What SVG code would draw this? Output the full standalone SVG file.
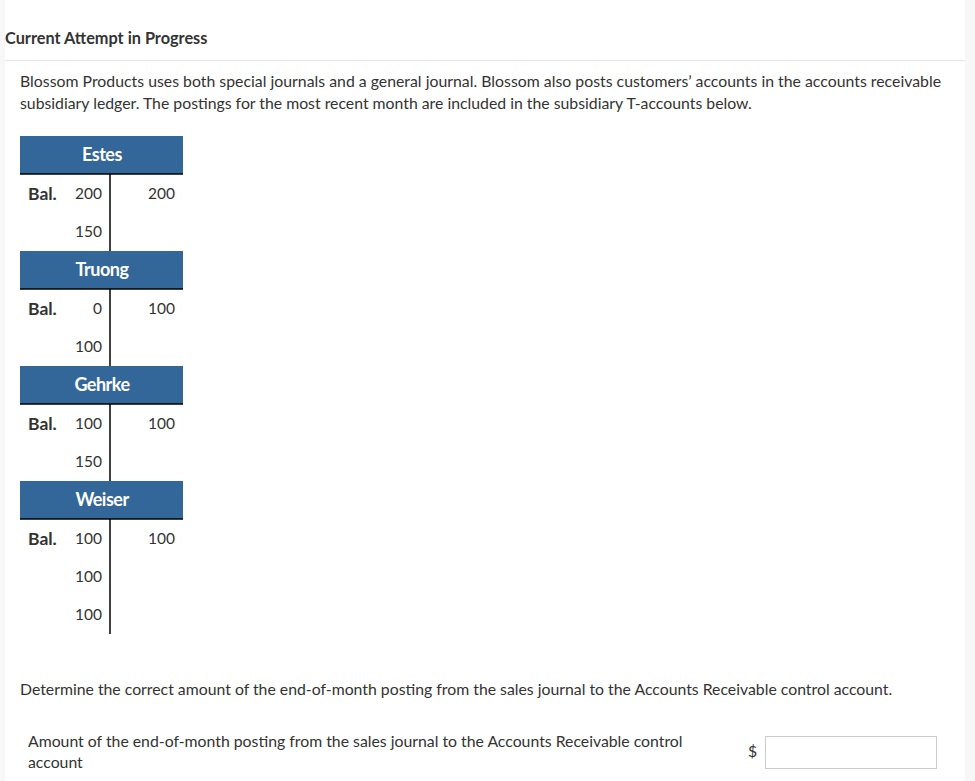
<svg xmlns="http://www.w3.org/2000/svg" width="975" height="781" viewBox="0 0 975 781">
<style>
text{font-family:Lato,"Noto Sans","Liberation Sans",sans-serif;fill:#333;font-size:15.8px}
.t{font-weight:bold;font-size:16.3px}
.b{font-weight:bold;font-size:17.5px}
.h{font-weight:bold;fill:#fff;font-size:18px;text-anchor:middle;letter-spacing:-0.5px}
.n{text-anchor:end;font-size:15.5px}
.hd{fill:#336699}
.ln{stroke:#000;stroke-width:1.5}
</style>
<rect width="975" height="781" fill="#fff"/>
<rect x="0" y="0" width="5" height="781" fill="#f7f7f7"/>
<rect x="965" y="0" width="10" height="781" fill="#f7f7f7"/>
<line x1="5" y1="60.5" x2="965" y2="60.5" stroke="#e6e6e6"/>
<text class="t" x="5" y="44">Current Attempt in Progress</text>
<text x="20" y="87" textLength="921">Blossom Products uses both special journals and a general journal. Blossom also posts customers’ accounts in the accounts receivable</text>
<text x="20" y="109">subsidiary ledger. The postings for the most recent month are included in the subsidiary T-accounts below.</text>
<g id="estes">
<rect class="hd" x="20" y="136" width="163" height="38"/>
<line class="ln" x1="20" y1="174" x2="183" y2="174"/>
<line class="ln" x1="110" y1="174" x2="110" y2="251"/>
<text class="h" x="102" y="161">Estes</text>
<text class="b" x="28" y="200">Bal.</text>
<text class="n" x="102" y="199">200</text>
<text class="n" x="175" y="199">200</text>
<text class="n" x="102" y="237">150</text>
</g>
<g id="truong">
<rect class="hd" x="20" y="251" width="163" height="38"/>
<line class="ln" x1="20" y1="289" x2="183" y2="289"/>
<line class="ln" x1="110" y1="289" x2="110" y2="366"/>
<text class="h" x="102" y="276">Truong</text>
<text class="b" x="28" y="315">Bal.</text>
<text class="n" x="102" y="314">0</text>
<text class="n" x="175" y="314">100</text>
<text class="n" x="102" y="352">100</text>
</g>
<g id="gehrke">
<rect class="hd" x="20" y="366" width="163" height="38"/>
<line class="ln" x1="20" y1="404" x2="183" y2="404"/>
<line class="ln" x1="110" y1="404" x2="110" y2="481"/>
<text class="h" x="102" y="391">Gehrke</text>
<text class="b" x="28" y="430">Bal.</text>
<text class="n" x="102" y="429">100</text>
<text class="n" x="175" y="429">100</text>
<text class="n" x="102" y="467">150</text>
</g>
<g id="weiser">
<rect class="hd" x="20" y="481" width="163" height="38"/>
<line class="ln" x1="20" y1="519" x2="183" y2="519"/>
<line class="ln" x1="110" y1="519" x2="110" y2="634"/>
<text class="h" x="102" y="506">Weiser</text>
<text class="b" x="28" y="545">Bal.</text>
<text class="n" x="102" y="544">100</text>
<text class="n" x="175" y="544">100</text>
<text class="n" x="102" y="582">100</text>
<text class="n" x="102" y="620">100</text>
</g>
<g id="connectors"></g>
<text x="20" y="695">Determine the correct amount of the end-of-month posting from the sales journal to the Accounts Receivable control account.</text>
<text x="28" y="747">Amount of the end-of-month posting from the sales journal to the Accounts Receivable control</text>
<text x="28" y="768">account</text>
<text x="748" y="757">$</text>
<rect x="765.5" y="736.5" width="171" height="32" fill="#fff" stroke="#ccc"/>
</svg>
